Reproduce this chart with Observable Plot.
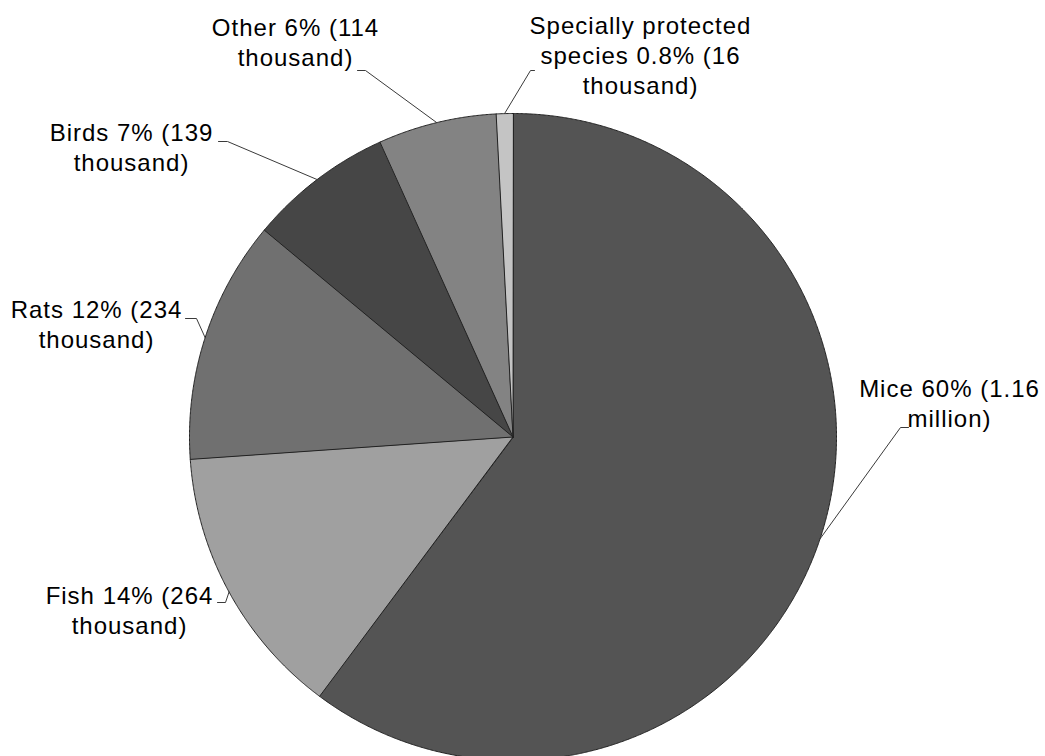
<!DOCTYPE html>
<html><head><meta charset="utf-8">
<script src="https://cdn.jsdelivr.net/npm/d3@7"></script>
<script src="https://cdn.jsdelivr.net/npm/@observablehq/plot@0.6"></script>
<style>
body{margin:0;background:#fff;}
#chart text{letter-spacing:1px;}
</style></head><body><div id="chart"></div>
<script>
// ---- data ----
const categories = ["Mice", "Fish", "Rats", "Birds", "Other", "Specially protected species"];
const counts = [1160000, 264000, 234000, 139000, 114000, 16000];
const labelTexts = [
  "Mice 60% (1.16\nmillion)",
  "Fish 14% (264\nthousand)",
  "Rats 12% (234\nthousand)",
  "Birds 7% (139\nthousand)",
  "Other 6% (114\nthousand)",
  "Specially protected\nspecies 0.8% (16\nthousand)"
];
const sliceColors = ["#545454", "#a0a0a0", "#707070", "#464646", "#838383", "#c4c4c4"];

// ---- layout (pixels) ----
const W = 1045, H = 756, CX = 512.5, CY = 436.5, R = 323.5;
const labelAnchor = [[949, 426], [129, 633], [96, 347], [131, 170], [295, 65], [640, 93]];
const leaderElbow = [[900, 427], [225, 602], [196, 318], [227, 141], [365, 70], [530, 70]];
const leaderEnd = [[908, 427], [217, 602], [185, 318], [218, 141], [357, 70], [534, 70]];

const px = p => [(p[0] - CX) / R, (CY - p[1]) / R];

const arcs = d3.pie().sort(null).value(d => d)(counts);

const marks = [];
arcs.forEach((a, i) => {
  const pts = [[0, 0]];
  const n = Math.max(2, Math.ceil((a.endAngle - a.startAngle) / 0.004));
  for (let k = 0; k <= n; k++) {
    const t = a.startAngle + (a.endAngle - a.startAngle) * k / n;
    pts.push([Math.sin(t), Math.cos(t)]);
  }
  marks.push(Plot.line(pts, {x: d => d[0], y: d => d[1], fill: sliceColors[i], stroke: "#222", strokeWidth: 1, strokeLinejoin: "round", curve: "linear-closed"}));
});

arcs.forEach((a, i) => {
  const m = (a.startAngle + a.endAngle) / 2;
  const pts = [[Math.sin(m), Math.cos(m)], px(leaderElbow[i]), px(leaderEnd[i])];
  marks.push(Plot.line(pts, {x: d => d[0], y: d => d[1], stroke: "#3a3a3a", strokeWidth: 1}));
});

const labels = categories.map((c, i) => ({name: c, text: labelTexts[i], pos: px(labelAnchor[i])}));
marks.push(Plot.text(labels, {x: d => d.pos[0], y: d => d.pos[1], text: "text", textAnchor: "middle", lineAnchor: "bottom", lineHeight: 1.25, fontSize: 24, fill: "#000"}));

const chart = Plot.plot({
  width: W, height: H, margin: 0,
  x: {domain: [-CX / R, (W - CX) / R], range: [0, W], axis: null},
  y: {domain: [-(H - CY) / R, CY / R], range: [H, 0], axis: null},
  style: {fontFamily: "'Liberation Sans', Arial, sans-serif", background: "#fff"},
  marks
});
document.getElementById("chart").appendChild(chart);
</script></body></html>
